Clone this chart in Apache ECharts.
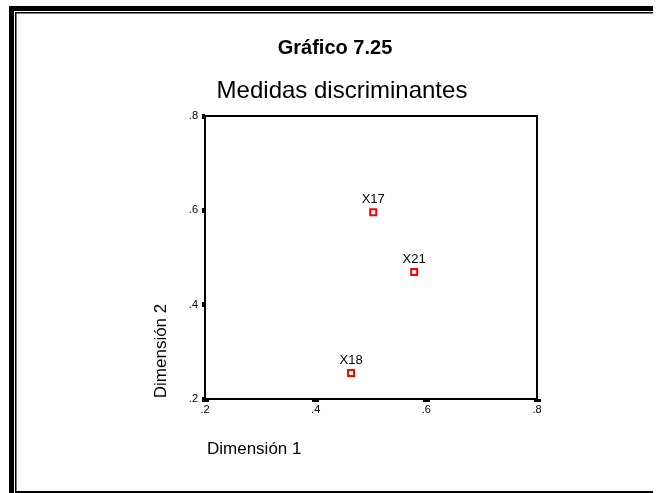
<!DOCTYPE html>
<html>
<head>
<meta charset="utf-8">
<script src="https://cdn.jsdelivr.net/npm/echarts@6/dist/echarts.min.js"></script>
<style>
html,body{margin:0;padding:0;background:#fff;}
#c{width:661px;height:493px;}
</style>
</head>
<body>
<div id="c"></div>
<script>
var variables = ['X17', 'X21', 'X18'];
var dim1 = [0.504, 0.578, 0.464];
var dim2 = [0.596, 0.469, 0.255];
var tickValues = [0.2, 0.4, 0.6, 0.8];

var FONT = '"Liberation Sans", Arial, sans-serif';
function fmt(v){ return String(Math.round(v*10)/10).replace(/^0\./, '.'); }

var chart = echarts.init(document.getElementById('c'), null, {renderer:'canvas'});
var pts = variables.map(function(n,i){ return {name:n, value:[dim1[i], dim2[i]]}; });

chart.setOption({
  animation:false,
  backgroundColor:'#fff',
  textStyle:{fontFamily:FONT},
  title:[
    {text:'Gráfico 7.25', left:330, textAlign:'center', top:33, textStyle:{fontFamily:FONT, fontSize:20, fontWeight:'bold', color:'#000'}},
    {text:'Medidas discriminantes', left:337, textAlign:'center', top:74, textStyle:{fontFamily:FONT, fontSize:24, fontWeight:'normal', color:'#000'}}
  ],
  grid:{left:205, top:116, width:332, height:283, show:true, borderColor:'#000', borderWidth:2, backgroundColor:'transparent'},
  xAxis:{
    type:'value', min:0.2, max:0.8, interval:0.2,
    name:'Dimensión 1', nameLocation:'start', nameGap:0,
    nameTextStyle:{fontFamily:FONT, fontSize:17, color:'#000', align:'left', verticalAlign:'top', padding:[42,0,0,2]},
    axisLine:{show:true, lineStyle:{color:'#000', width:2}},
    axisTick:{show:true, length:3, lineStyle:{color:'#000', width:7}},
    axisLabel:{formatter:fmt, fontSize:11, color:'#000', fontFamily:FONT, margin:5},
    splitLine:{show:false}
  },
  yAxis:{
    type:'value', min:0.2, max:0.8, interval:0.2,
    name:'Dimensión 2', nameLocation:'middle', nameGap:35, nameRotate:90,
    nameTextStyle:{fontFamily:FONT, fontSize:17, color:'#000', padding:[0,0,0,-187]},
    axisLine:{show:true, lineStyle:{color:'#000', width:2}},
    axisTick:{show:true, length:3, lineStyle:{color:'#000', width:5}},
    axisLabel:{formatter:fmt, fontSize:11, color:'#000', fontFamily:FONT, margin:7},
    splitLine:{show:false}
  },
  series:[{
    type:'scatter',
    data:pts,
    symbol:'rect',
    symbolSize:6,
    itemStyle:{color:'#fff', borderColor:'#ff0000', borderWidth:2, opacity:1},
    label:{show:true, position:'top', distance:2, formatter:'{b}', fontSize:13, color:'#000', fontFamily:FONT}
  }],
  graphic:[
    {type:'rect', shape:{x:9, y:6, width:5, height:487}, style:{fill:'#000'}, silent:true},
    {type:'rect', shape:{x:9, y:6, width:644, height:5}, style:{fill:'#000'}, silent:true},
    {type:'rect', shape:{x:15, y:12, width:1.5, height:481}, style:{fill:'#000'}, silent:true},
    {type:'rect', shape:{x:15, y:12, width:638, height:1.5}, style:{fill:'#000'}, silent:true},
    {type:'rect', shape:{x:15, y:491, width:638, height:2}, style:{fill:'#000'}, silent:true}
  ]
});
</script>
</body>
</html>
